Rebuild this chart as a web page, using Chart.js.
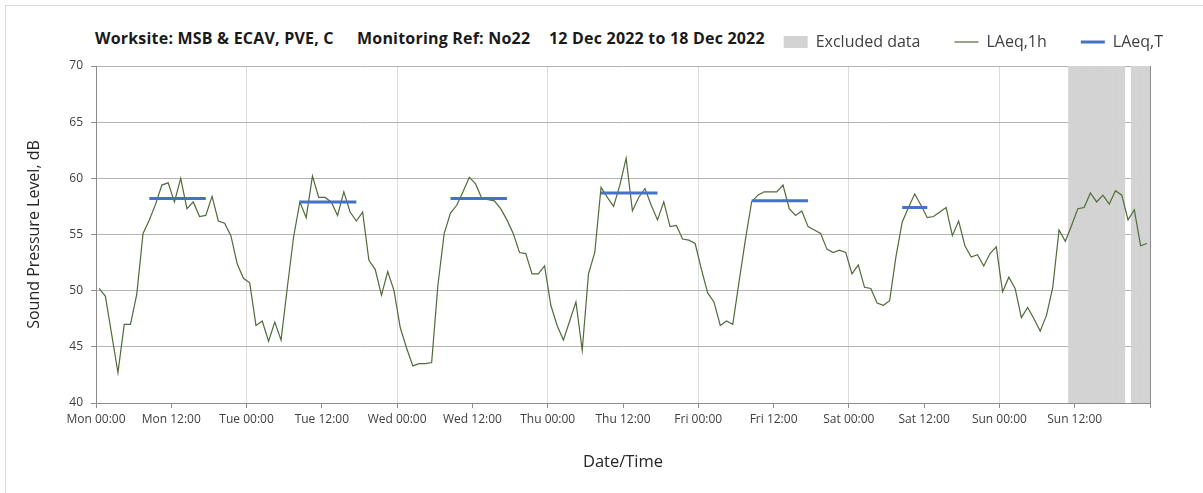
<!DOCTYPE html>
<html>
<head>
<meta charset="utf-8">
<script src="https://cdn.jsdelivr.net/npm/chart.js@4.4.0/dist/chart.umd.min.js"></script>
<style>
  html, body { margin: 0; padding: 0; background: #fff; }
  body { width: 1203px; height: 493px; overflow: hidden; position: relative; font-family: "Open Sans", sans-serif; }
  .frame { position: absolute; left: 5px; top: 5px; width: 1300px; height: 600px; border: 1px solid #d9d9d9; }
  .title { position: absolute; top: 27px; font-weight: bold; font-size: 16px; letter-spacing: 0.2px; line-height: 22px; color: #1a1a1a; white-space: nowrap; }
  #chart { position: absolute; left: 0; top: 0; }
</style>
</head>
<body>
<div class="frame"></div>
<span class="title" style="left:95px">Worksite: MSB &amp; ECAV, PVE, C</span>
<span class="title" style="left:357px">Monitoring Ref: No22</span>
<span class="title" style="left:549px">12 Dec 2022 to 18 Dec 2022</span>
<canvas id="chart" width="1203" height="493"></canvas>
<script>
// hourly LAeq,1h values, Mon 00:00 -> Sun 23:00 (one per hour)
const laeq1h = [
  50.2, 49.5, 46.1, 42.7, 47.0, 47.0, 49.7, 55.1, 56.3, 57.7, 59.4, 59.6,
  57.9, 60.0, 57.3, 57.9, 56.6, 56.7, 58.4, 56.2, 56.0, 54.9, 52.4, 51.1,
  50.7, 46.9, 47.3, 45.5, 47.2, 45.6, 50.3, 54.8, 57.9, 56.5, 60.2, 58.3,
  58.3, 57.9, 56.7, 58.8, 57.0, 56.2, 57.0, 52.7, 51.9, 49.6, 51.7, 50.0,
  46.7, 44.9, 43.3, 43.5, 43.5, 43.6, 50.5, 55.1, 56.9, 57.6, 58.8, 60.1,
  59.5, 58.2, 58.1, 58.0, 57.3, 56.3, 55.1, 53.4, 53.3, 51.5, 51.5, 52.2,
  48.7, 46.9, 45.6, 47.3, 49.0, 44.7, 51.5, 53.4, 59.2, 58.3, 57.5, 59.4,
  61.8, 57.1, 58.3, 59.1, 57.6, 56.3, 57.9, 55.7, 55.8, 54.6, 54.5, 54.2,
  51.9, 49.8, 49.0, 46.9, 47.3, 47.0, 50.8, 54.5, 57.9, 58.5, 58.8, 58.8,
  58.8, 59.4, 57.3, 56.7, 57.1, 55.7, 55.4, 55.1, 53.7, 53.4, 53.6, 53.4,
  51.5, 52.3, 50.3, 50.2, 48.9, 48.7, 49.1, 53.0, 56.1, 57.4, 58.6, 57.6,
  56.5, 56.6, 57.0, 57.4, 54.9, 56.2, 54.0, 53.0, 53.2, 52.2, 53.3, 53.9,
  49.9, 51.2, 50.2, 47.6, 48.5, 47.5, 46.4, 47.8, 50.3, 55.4, 54.4, 55.8,
  57.3, 57.4, 58.7, 57.9, 58.5, 57.7, 58.9, 58.5, 56.3, 57.2, 54.0, 54.2
];

// LAeq,T periods (hour from / hour to) and levels
const periodFrom = [8, 32, 56, 80, 104, 128];
const periodTo = [18, 42, 66, 90, 114, 133];
const laeqT = [58.2, 57.9, 58.2, 58.7, 58.0, 57.4];

// hours flagged as excluded
const excludedHours = [155, 156, 157, 158, 159, 160, 161, 162, 163, 165, 166, 167];

const tickLabels = [
  "Mon 00:00", "Mon 12:00", "Tue 00:00", "Tue 12:00", "Wed 00:00", "Wed 12:00",
  "Thu 00:00", "Thu 12:00", "Fri 00:00", "Fri 12:00", "Sat 00:00", "Sat 12:00",
  "Sun 00:00", "Sun 12:00"
];

const AXIS_GREY = "#8c8c8c";
const TEXT_GREY = "#404040";
const FONT = "'Open Sans', sans-serif";

const hourlyPoints = laeq1h.map((v, i) => ({ x: i + 0.5, y: v }));

const periodPoints = [];
laeqT.forEach((v, i) => {
  periodPoints.push({ x: periodFrom[i] + 0.5, y: v });
  periodPoints.push({ x: periodTo[i] - 0.5, y: v });
  periodPoints.push({ x: periodTo[i], y: null });
});

const excludedBars = excludedHours.map((h) => ({ x: h + 0.5, y: [40, 70] }));

const legendStyles = ["rect", "line", "line"];

// invisible spacer axes, only used to place the plot area
const spacer = (axis, position, size) => ({
  axis: axis,
  type: "linear",
  position: position,
  afterFit: (s) => {
    if (axis === "y") s.width = size;
    else s.height = size;
  },
  ticks: { display: false },
  grid: { display: false },
  border: { display: false },
});

new Chart(document.getElementById("chart"), {
  type: "line",
  data: {
    datasets: [
      {
        type: "bar",
        label: "Excluded data",
        data: excludedBars,
        backgroundColor: "#d3d3d3",
        borderWidth: 0,
        barPercentage: 1.08,
        categoryPercentage: 1,
        order: 3,
      },
      {
        label: "LAeq,1h",
        data: hourlyPoints,
        borderColor: "#4f6b3a",
        borderWidth: 1.2,
        pointRadius: 0,
        tension: 0,
        order: 2,
      },
      {
        label: "LAeq,T",
        data: periodPoints,
        borderColor: "#4472c4",
        borderWidth: 3,
        pointRadius: 0,
        spanGaps: false,
        order: 1,
      },
    ],
  },
  options: {
    responsive: false,
    animation: false,
    devicePixelRatio: 1,
    layout: { padding: { top: 0, right: 6, left: 0, bottom: 0 } },
    plugins: {
      tooltip: { enabled: false },
      legend: {
        position: "top",
        align: "end",
        labels: {
          usePointStyle: true,
          pointStyleWidth: 24,
          boxHeight: 12,
          padding: 34,
          color: TEXT_GREY,
          font: { size: 16, family: FONT },
          sort: (a, b) => a.datasetIndex - b.datasetIndex,
          generateLabels: (chart) => {
            const items = Chart.defaults.plugins.legend.labels.generateLabels(chart);
            items.forEach((it) => {
              it.pointStyle = legendStyles[it.datasetIndex];
            });
            return items;
          },
        },
      },
    },
    scales: {
      x: {
        type: "linear",
        min: 0,
        max: 168,
        offset: false,
        afterFit: (s) => { s.height = 90; },
        ticks: {
          stepSize: 12,
          maxTicksLimit: 20,
          autoSkip: false,
          maxRotation: 0,
          padding: 4,
          color: TEXT_GREY,
          font: { size: 12, family: FONT },
          callback: (v) => tickLabels[v / 12] ?? "",
        },
        grid: {
          offset: false,
          color: (c) => {
            const v = c.tick ? c.tick.value : 0;
            if (v === 168) return AXIS_GREY;
            if (v > 0 && v % 24 === 0) return "#dcdcdc";
            return "rgba(0,0,0,0)";
          },
          tickColor: AXIS_GREY,
          tickLength: 5,
        },
        border: { color: AXIS_GREY },
        title: {
          display: true,
          text: "Date/Time",
          color: "#262626",
          font: { size: 16.5, family: FONT },
          padding: { top: 0, bottom: 21 },
        },
      },
      y: {
        min: 40,
        max: 70,
        afterFit: (s) => { s.width = 96; },
        ticks: {
          stepSize: 5,
          padding: 8,
          color: TEXT_GREY,
          font: { size: 12, family: FONT },
        },
        grid: { color: "#b4b4b4", tickColor: AXIS_GREY, tickLength: 5 },
        border: { color: AXIS_GREY },
        title: {
          display: true,
          text: "Sound Pressure Level, dB",
          color: "#262626",
          font: { size: 16, family: FONT },
          padding: { top: 25, bottom: 0 },
        },
      },
      yR: spacer("y", "right", 47),
      xT: spacer("x", "top", 6),
    },
  },
});
</script>
</body>
</html>
